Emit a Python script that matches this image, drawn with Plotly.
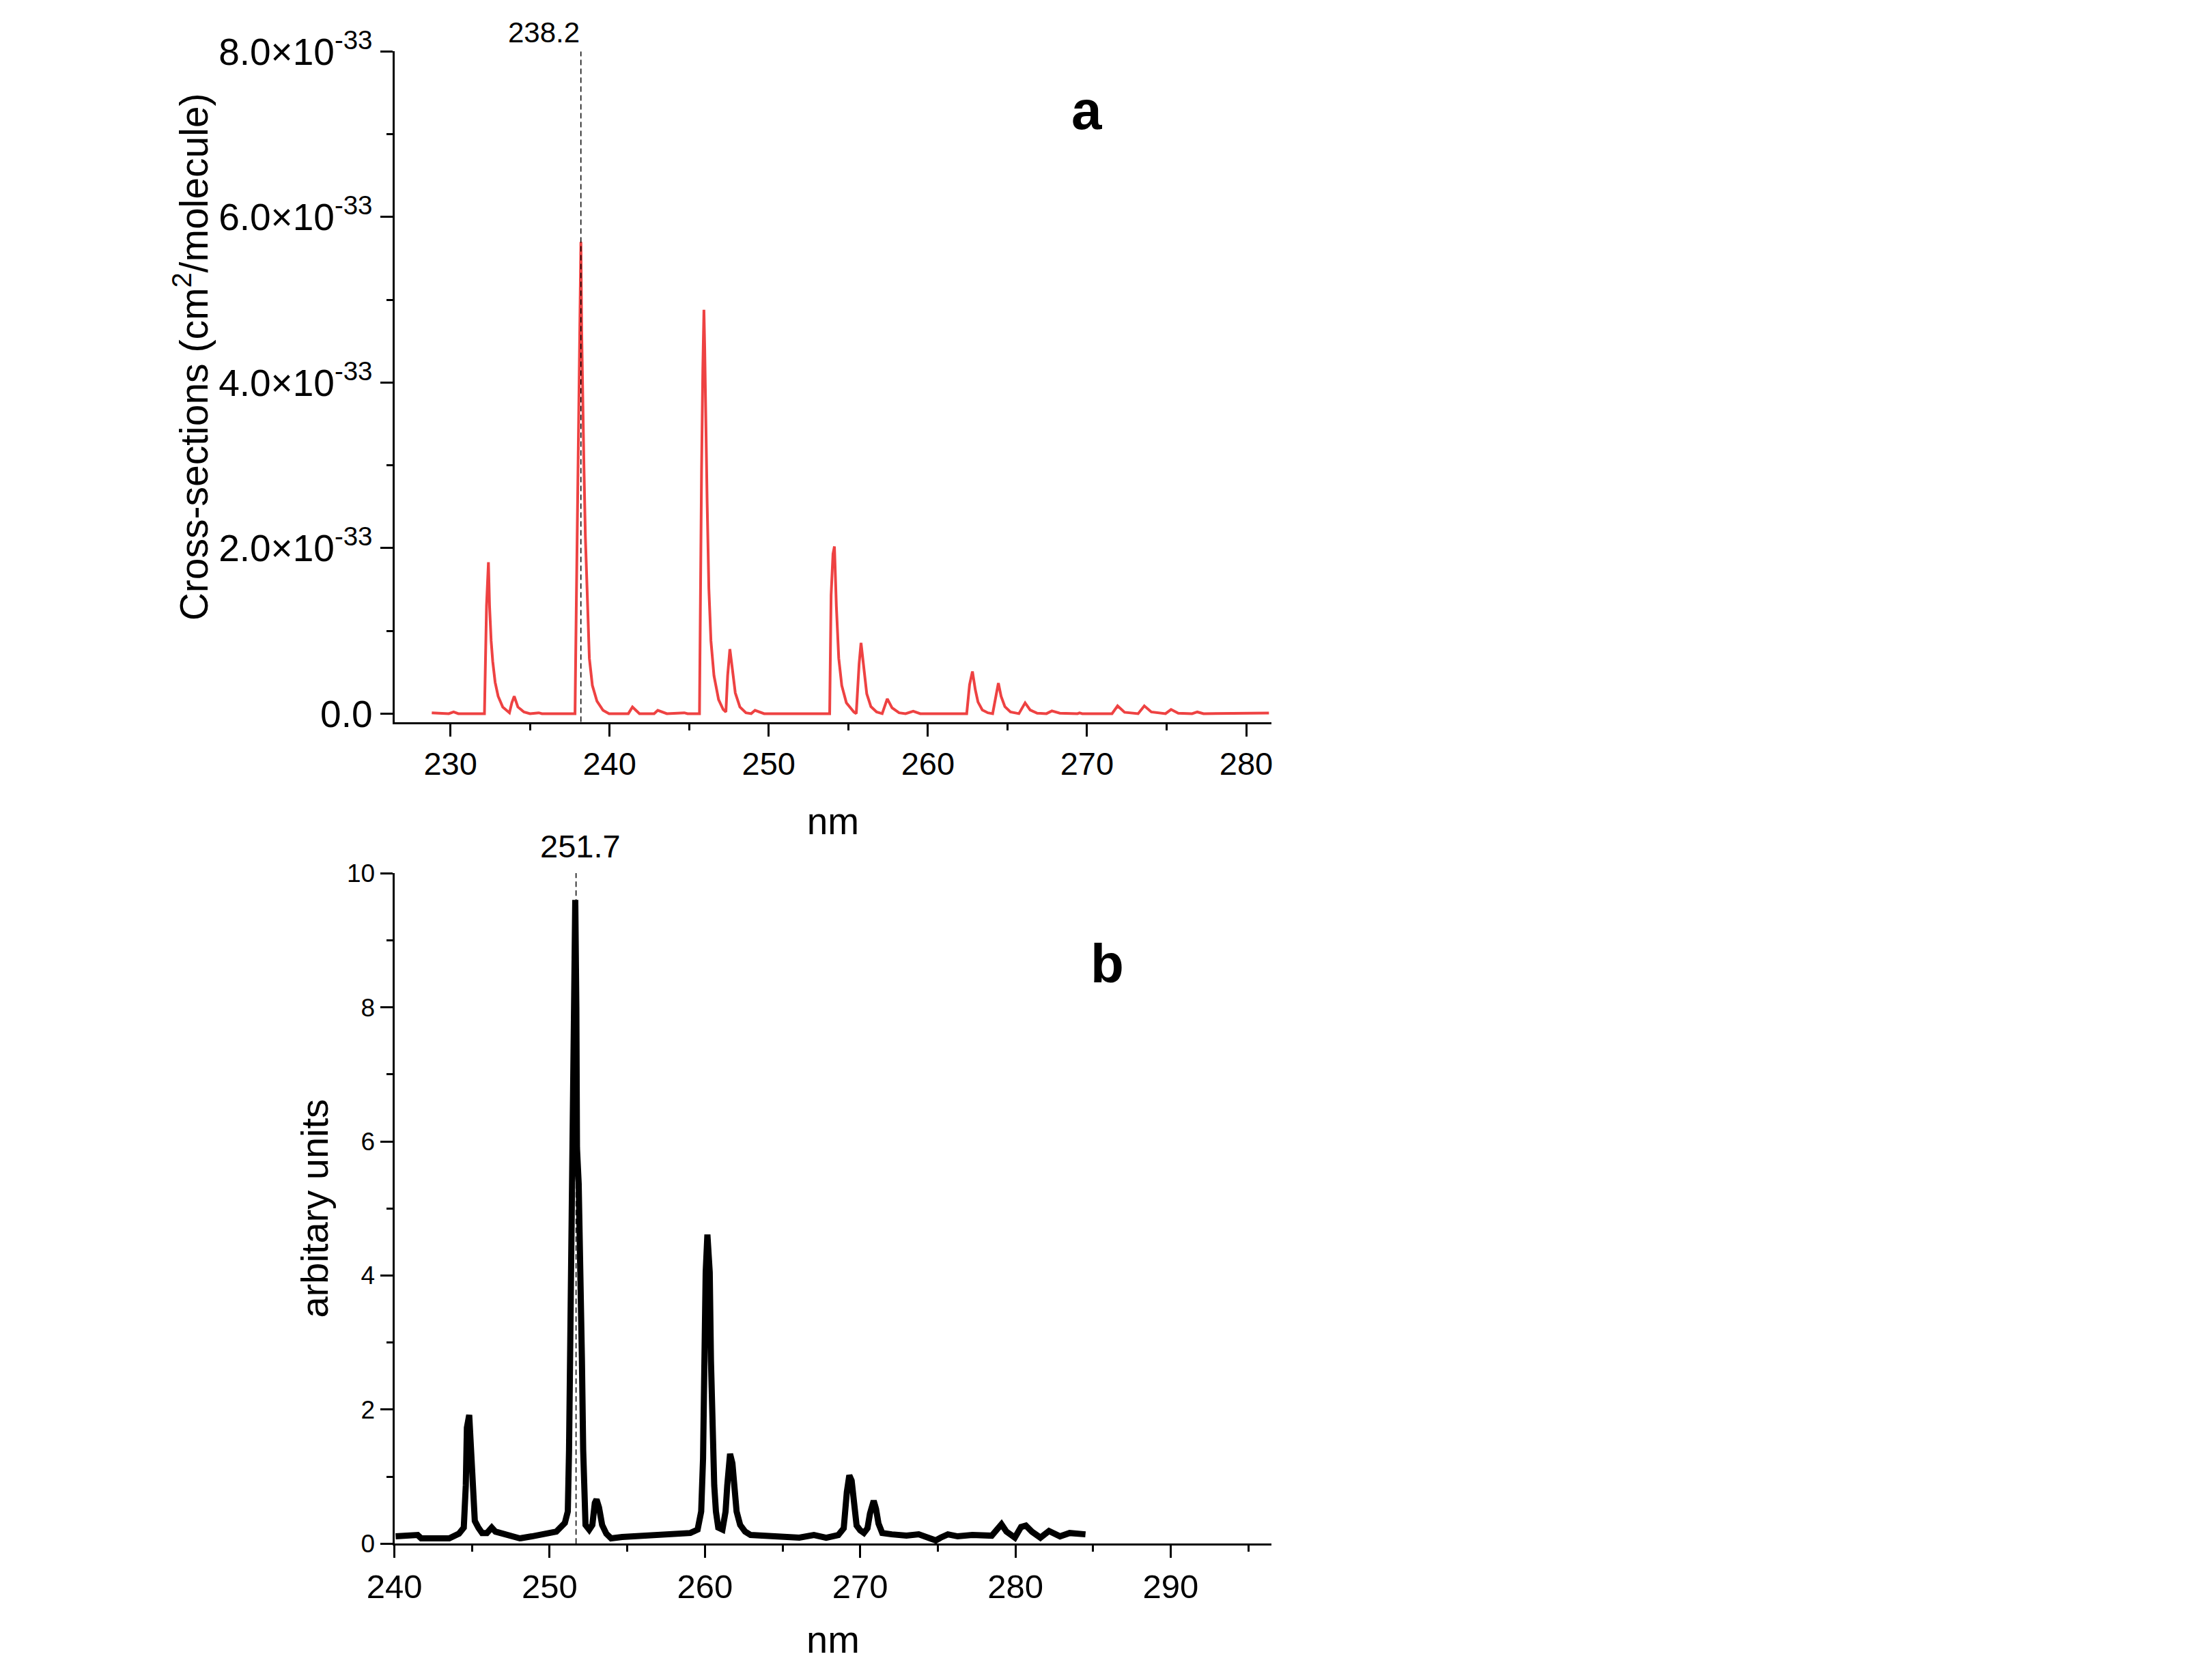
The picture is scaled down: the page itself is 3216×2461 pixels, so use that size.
import numpy as np
import plotly.graph_objects as go

# ---- panel a: calculated cross-sections (nm, units of 1e-33 cm2/molecule)
a_nm = [228.83, 229.9, 230.2, 230.5, 232.14,
        232.2, 232.27, 232.39, 232.46, 232.56, 232.66, 232.81, 233.0, 233.29, 233.71,
        233.86, 234.01, 234.24, 234.62, 235.0, 235.55, 235.75,
        237.83, 237.91, 237.99, 238.06, 238.12, 238.2, 238.25, 238.29, 238.39, 238.48, 238.6, 238.73, 238.92, 239.21, 239.59, 239.97,
        241.18, 241.44, 241.88, 242.8, 243.03, 243.6, 244.7, 244.9,
        245.65, 245.7, 245.78, 245.86, 245.93, 245.98, 246.03, 246.13, 246.24, 246.37, 246.56, 246.85, 247.14, 247.31,
        247.42, 247.56, 247.71, 247.9, 248.19, 248.57, 248.9, 249.14, 249.71,
        253.83, 253.92, 254.04, 254.13, 254.25, 254.4, 254.59, 254.88, 255.35, 255.5,
        255.68, 255.8, 255.98, 256.16, 256.42, 256.78, 257.13,
        257.45, 257.75, 258.19, 258.6, 259.08, 259.52,
        262.44, 262.62, 262.8, 262.98, 263.15, 263.42, 263.77, 264.07,
        264.3, 264.43, 264.6, 264.84, 265.19, 265.72,
        266.11, 266.43, 266.87, 267.45, 267.79, 268.29, 269.4, 269.53, 269.7,
        271.57, 271.92, 272.36, 273.21, 273.6, 274.04, 274.93, 275.28, 275.73, 276.6, 276.93, 277.32, 278.45, 278.65, 278.85, 281.2, 281.43]
a_xsec = [0.01, 0.0, 0.02, 0.0, 0.0,
          0.67, 1.3, 1.83, 1.3, 0.88, 0.63, 0.38, 0.21, 0.08, 0.01,
          0.13, 0.21, 0.08, 0.02, 0.0, 0.01, 0.0,
          0.0, 1.3, 2.57, 3.53, 5.0, 5.7, 4.6, 4.04, 2.99, 2.14, 1.3, 0.67, 0.34, 0.15, 0.04, 0.0,
          0.0, 0.08, 0.0, 0.0, 0.04, 0.0, 0.01, 0.0,
          0.0, 1.3, 2.94, 4.16, 4.88, 4.4, 3.7, 2.57, 1.51, 0.88, 0.46, 0.17, 0.05, 0.02,
          0.46, 0.78, 0.55, 0.25, 0.08, 0.01, 0.0, 0.04, 0.0,
          0.0, 1.43, 1.93, 2.02, 1.3, 0.67, 0.34, 0.13, 0.02, 0.0,
          0.6, 0.855, 0.51, 0.24, 0.085, 0.02, 0.0,
          0.18, 0.07, 0.01, 0.0, 0.03, 0.0,
          0.0, 0.35, 0.51, 0.29, 0.14, 0.044, 0.01, 0.0,
          0.26, 0.37, 0.21, 0.085, 0.02, 0.0,
          0.13, 0.044, 0.005, 0.0, 0.033, 0.005, 0.0, 0.008, 0.0,
          0.0, 0.093, 0.016, 0.0, 0.093, 0.02, 0.0, 0.05, 0.005, 0.0, 0.02, 0.0, 0.0, 0.008, 0.0, 0.0, 0.008]
a_peak = 238.2

# ---- panel b: measured spectrum (arbitrary units)
b_nm = [240.08, 241.5, 241.73, 243.53, 244.16, 244.47, 244.6, 244.67, 244.82, 244.94,
        245.05, 245.18, 245.41, 245.65, 245.96, 246.27, 246.51, 246.98, 247.45, 248.08,
        248.86, 249.65, 250.43, 250.98, 251.17, 251.25, 251.34, 251.42, 251.5, 251.56,
        251.65, 251.72, 251.76, 251.87, 252.0, 252.08, 252.16, 252.24, 252.31, 252.55,
        252.75, 252.91, 253.02, 253.18, 253.38, 253.65, 253.96, 254.67, 255.45, 256.24,
        257.0, 257.65, 258.3, 259.06, 259.53, 259.76, 259.88, 259.95, 260.05, 260.16,
        260.31, 260.39, 260.47, 260.6, 260.71, 260.86, 261.13, 261.33, 261.44, 261.62,
        261.77, 261.88, 262.04, 262.27, 262.59, 262.94, 263.73, 264.51, 265.3, 266.08,
        267.02, 267.81, 268.59, 268.94, 269.14, 269.3, 269.45, 269.61, 269.77, 270.0,
        270.24, 270.47, 270.63, 270.87, 271.02, 271.18, 271.42, 272.04, 272.98, 273.77,
        274.55, 274.87, 275.18, 275.65, 276.28, 277.22, 278.47, 278.79, 279.1, 279.42,
        279.96, 280.36, 280.67, 281.06, 281.61, 282.16, 282.55, 282.87, 283.49, 284.51]
b_int = [0.11, 0.13, 0.08, 0.08, 0.15, 0.24, 0.87, 1.73, 1.92, 1.4,
         0.74, 0.34, 0.24, 0.16, 0.16, 0.24, 0.18, 0.15, 0.11, 0.08,
         0.11, 0.15, 0.18, 0.31, 0.48, 1.4, 3.39, 6.03, 8.0, 9.6,
         9.6, 8.0, 5.9, 5.37, 4.05, 2.72, 1.4, 0.61, 0.28, 0.21,
         0.28, 0.61, 0.66, 0.54, 0.28, 0.15, 0.08, 0.1, 0.11, 0.13,
         0.13, 0.15, 0.14, 0.16, 0.21, 0.48, 1.27, 2.72, 4.05, 4.61,
         4.05, 2.72, 1.73, 0.87, 0.48, 0.24, 0.21, 0.48, 0.87, 1.34,
         1.2, 0.74, 0.48, 0.28, 0.18, 0.13, 0.12, 0.09, 0.08, 0.09,
         0.13, 0.09, 0.13, 0.23, 0.77, 1.02, 0.94, 0.48, 0.27, 0.2,
         0.16, 0.23, 0.45, 0.64, 0.52, 0.3, 0.16, 0.14, 0.12, 0.14,
         0.09, 0.05, 0.09, 0.14, 0.11, 0.13, 0.12, 0.2, 0.29, 0.18,
         0.09, 0.25, 0.27, 0.18, 0.09, 0.19, 0.14, 0.11, 0.16, 0.14]
b_peak = 251.7

assert len(a_nm) == len(a_xsec) and len(b_nm) == len(b_int)

# axis ticks
a_yticks = [0, 2e-33, 4e-33, 6e-33, 8e-33]
a_yticktext = ["0.0", "2.0×10<sup>-33</sup>", "4.0×10<sup>-33</sup>",
               "6.0×10<sup>-33</sup>", "8.0×10<sup>-33</sup>"]

W, H = 3216, 2461
FONT = "Liberation Sans, Arial, sans-serif"

fig = go.Figure()
fig.add_trace(go.Scatter(x=a_nm, y=np.array(a_xsec) * 1e-33, mode="lines",
                         line=dict(color="#EE4242", width=4),
                         xaxis="x", yaxis="y", showlegend=False))
fig.add_trace(go.Scatter(x=b_nm, y=b_int, mode="lines",
                         line=dict(color="black", width=9),
                         xaxis="x2", yaxis="y2", showlegend=False))

axis_common = dict(showline=True, linecolor="black", linewidth=3, ticks="outside",
                   ticklen=18, tickwidth=3, tickcolor="black", showgrid=False,
                   zeroline=False)
minor_common = dict(ticks="outside", ticklen=9, tickwidth=3, tickcolor="black",
                    showgrid=False)

fig.update_layout(
    width=W, height=H,
    margin=dict(l=0, r=0, t=0, b=0),
    paper_bgcolor="white", plot_bgcolor="white",
    font=dict(family=FONT, color="black"),
    xaxis=dict(axis_common, domain=[0.1691, 0.574], anchor="y",
               range=[226.48, 281.6], tick0=230, dtick=10,
               minor=dict(minor_common, dtick=5, tick0=230),
               tickfont=dict(size=47),
               title=dict(text="nm", font=dict(size=55), standoff=40)),
    yaxis=dict(axis_common, domain=[0.5758, 0.9848], anchor="x",
               range=[-0.1e-33, 8.0e-33], tickmode="array",
               tickvals=a_yticks, ticktext=a_yticktext,
               minor=dict(minor_common, tickmode="array",
                          tickvals=[1e-33, 3e-33, 5e-33, 7e-33]),
               tickfont=dict(size=55)),
    xaxis2=dict(axis_common, domain=[0.1691, 0.574], anchor="y2",
                range=[240, 296.5], tick0=240, dtick=10,
                minor=dict(minor_common, dtick=5, tick0=240),
                tickfont=dict(size=49),
                title=dict(text="nm", font=dict(size=56), standoff=32)),
    yaxis2=dict(axis_common, domain=[0.0744, 0.4835], anchor="x2",
                range=[0, 10], tick0=0, dtick=2,
                minor=dict(minor_common, dtick=1, tick0=0),
                tickfont=dict(size=37),
                title=dict(text="arbitary units", font=dict(size=56), standoff=10)),
)

# y title of panel a sits a little above the axis centre in the original
fig.add_annotation(text="Cross-sections (cm<sup>2</sup>/molecule)", textangle=-90,
                   xref="x domain", yref="y", x=-0.232, y=4.31e-33,
                   xanchor="center", yanchor="middle", showarrow=False,
                   font=dict(size=57))

# dashed markers at the main peaks
fig.add_shape(type="line", xref="x", yref="y domain", x0=a_peak, x1=a_peak, y0=0, y1=1,
              line=dict(color="black", width=1.5, dash="8px,5px"))
fig.add_shape(type="line", xref="x2", yref="y2 domain", x0=b_peak, x1=b_peak, y0=0, y1=1,
              line=dict(color="black", width=1.5, dash="8px,5px"))

fig.add_annotation(text=f"{a_peak}", xref="x", yref="paper", x=a_peak, y=0.9859,
                   xanchor="right", yanchor="bottom", showarrow=False,
                   font=dict(size=42))
fig.add_annotation(text=f"{b_peak}", xref="x2", yref="paper", x=b_peak, y=0.4881,
                   xanchor="center", yanchor="bottom", xshift=6, showarrow=False,
                   font=dict(size=47))

# panel letters
fig.add_annotation(text="<b>a</b>", xref="paper", yref="paper", x=0.4885, y=0.9298,
                   xanchor="center", yanchor="bottom", showarrow=False,
                   font=dict(size=80))
fig.add_annotation(text="<b>b</b>", xref="paper", yref="paper", x=0.4981, y=0.4088,
                   xanchor="center", yanchor="bottom", showarrow=False,
                   font=dict(size=80))

fig.write_html("out.html", config={"displayModeBar": False},
               post_script="document.body.style.margin='0';")
